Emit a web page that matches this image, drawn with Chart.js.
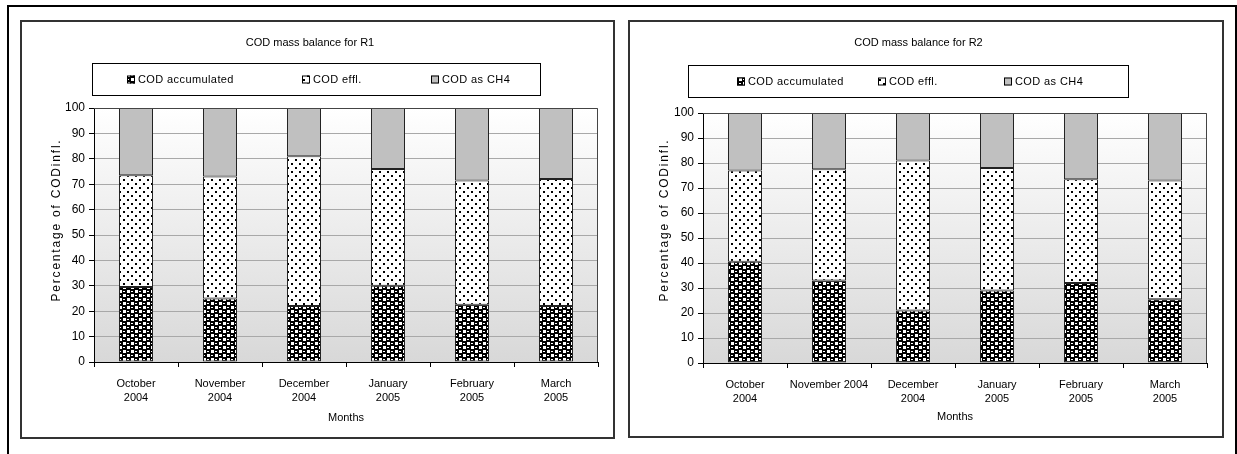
<!DOCTYPE html>
<html>
<head>
<style>
body { margin: 0; background: #fff; }
#frame { position: absolute; left: 7px; top: 5px; width: 1226px; height: 460px; border: 2px solid #000; border-bottom: none; }
.box { position: absolute; top: 20px; border: 2px solid #333; }
.box canvas { display: block; }
</style>
</head>
<body>

<div id="frame"></div>
<div class="box" style="left: 20px;"><canvas id="chartR1" width="591" height="415"></canvas></div>
<div class="box" style="left: 628px;"><canvas id="chartR2" width="592" height="414"></canvas></div>

<script src="https://cdn.jsdelivr.net/npm/chart.js"></script>
<script>
const labelsR1 = [['October', '2004'], ['November', '2004'], ['December', '2004'], ['January', '2005'], ['February', '2005'], ['March', '2005']];
const labelsR2 = [['October', '2004'], 'November 2004', ['December', '2004'], ['January', '2005'], ['February', '2005'], ['March', '2005']];
const seriesNames = ['COD accumulated', 'COD effl.', 'COD as CH4'];

const r1Accumulated = [29.5, 25, 22, 30, 22.5, 22];
const r1Effluent = [44, 48, 59, 46, 49, 50];
const r1Methane = [26.5, 27, 19, 24, 28.5, 28];

const r2Accumulated = [40.5, 33, 21, 29, 32, 25.5];
const r2Effluent = [36.5, 44.5, 60, 49, 41.5, 47.5];
const r2Methane = [23, 22.5, 19, 22, 26.5, 27];

const yMin = 0, yMax = 100, yStep = 10;
const yTitle = 'Percentage of CODinfl.';

const FONT = 'Liberation Sans, Arial, sans-serif';
Chart.defaults.font.family = FONT;
Chart.defaults.font.size = 11;
Chart.defaults.color = '#000';

// fill patterns like the old excel ones
function makeTile(w, h, draw) {
    const c = document.createElement('canvas');
    c.width = w; c.height = h;
    draw(c.getContext('2d'));
    return c;
}
const ballTile = makeTile(8, 8, g => {
    g.fillStyle = '#000';
    g.fillRect(0, 0, 8, 8);
    g.fillStyle = '#fff';
    g.fillRect(5, 0, 3, 3);
    g.fillRect(1, 4, 3, 3);
    g.fillRect(1, 1, 2, 1);
    g.fillRect(5, 5, 2, 1);
});
const dotTile = makeTile(8, 8, g => {
    g.fillStyle = '#fff';
    g.fillRect(0, 0, 8, 8);
    g.fillStyle = '#000';
    g.fillRect(1, 1, 2, 2);
    g.fillRect(5, 5, 2, 2);
});

function fills(ctx) {
    return [ctx.createPattern(ballTile, 'repeat'), ctx.createPattern(dotTile, 'repeat'), '#c0c0c0'];
}

const plotBack = {
    id: 'plotBack',
    beforeDraw(chart) {
        const a = chart.chartArea, ctx = chart.ctx;
        const grd = ctx.createLinearGradient(0, a.top, 0, a.bottom);
        grd.addColorStop(0, '#ffffff');
        grd.addColorStop(1, '#d8d8d8');
        ctx.save();
        ctx.fillStyle = grd;
        ctx.fillRect(a.left, a.top, a.right - a.left, a.bottom - a.top);
        ctx.restore();
    },
    afterDraw(chart) {
        const a = chart.chartArea, ctx = chart.ctx;
        ctx.save();
        ctx.strokeStyle = '#444';
        ctx.lineWidth = 1;
        ctx.beginPath();
        ctx.moveTo(a.left, a.top + 0.5);
        ctx.lineTo(a.right - 0.5, a.top + 0.5);
        ctx.lineTo(a.right - 0.5, a.bottom);
        ctx.stroke();
        ctx.restore();
    }
};

// y title is spaced out and sits a bit above the middle in the original
const sideTitle = {
    id: 'sideTitle',
    afterDraw(chart, args, opts) {
        const ctx = chart.ctx;
        ctx.save();
        ctx.translate(opts.x, opts.y);
        ctx.rotate(-Math.PI / 2);
        ctx.font = '12px ' + FONT;
        ctx.letterSpacing = '1.8px';
        ctx.fillStyle = '#000';
        ctx.textAlign = 'center';
        ctx.textBaseline = 'middle';
        ctx.fillText(opts.text, 0, 0);
        ctx.restore();
    }
};

const boxLegend = {
    id: 'boxLegend',
    afterDraw(chart, args, opts) {
        const ctx = chart.ctx;
        const [x, y, w, h] = opts.rect;
        ctx.save();
        ctx.strokeStyle = '#000';
        ctx.lineWidth = 1;
        ctx.strokeRect(x + 0.5, y + 0.5, w, h);
        ctx.font = '11px ' + FONT;
        ctx.letterSpacing = '0.4px';
        ctx.textBaseline = 'middle';
        const sw = 8, gap = 3;
        const cy = y + h / 2 + 0.5;
        chart.data.datasets.forEach((d, i) => {
            const cx = x + opts.at[i];
            ctx.fillStyle = d.backgroundColor;
            ctx.fillRect(cx, cy - sw / 2, sw, sw);
            ctx.strokeStyle = '#000';
            ctx.strokeRect(cx + 0.5, cy - sw / 2 + 0.5, sw - 1, sw - 1);
            ctx.fillStyle = '#000';
            ctx.fillText(d.label, cx + sw + gap, cy);
        });
        ctx.restore();
    }
};

function makeChart(id, title, labels, acc, eff, meth, cfg) {
    const ctx = document.getElementById(id).getContext('2d');
    const f = fills(ctx);
    const data = [acc, eff, meth];
    return new Chart(ctx, {
        type: 'bar',
        data: {
            labels: labels,
            datasets: data.map((vals, i) => ({
                label: seriesNames[i],
                data: vals,
                backgroundColor: f[i],
                borderColor: '#222',
                borderWidth: 1,
                borderSkipped: false,
                barPercentage: 0.405,
                categoryPercentage: 1
            }))
        },
        options: {
            responsive: false,
            animation: false,
            layout: { padding: { left: 0, right: 15, top: 0, bottom: 0 } },
            plugins: {
                legend: { display: false },
                tooltip: { enabled: false },
                title: {
                    display: true,
                    text: title,
                    font: { size: 11, weight: 'normal' },
                    color: '#000',
                    padding: { top: 14, bottom: cfg.plotTop - 14 - 13.2 }
                },
                boxLegend: { rect: cfg.legend, at: cfg.legendAt },
                sideTitle: { text: yTitle, x: cfg.yTitleX, y: cfg.yTitleY }
            },
            scales: {
                x: {
                    stacked: true,
                    grid: { display: true, drawOnChartArea: false, drawTicks: true, tickLength: 5, color: '#000', offset: true },
                    border: { display: true, color: '#000', width: 1 },
                    ticks: { color: '#000', padding: 10, maxRotation: 0, autoSkip: false, font: { size: 11, lineHeight: 1.3 } },
                    title: { display: true, text: 'Months', color: '#000', font: { size: 11 }, padding: { top: 0, bottom: 12 } },
                    afterFit: s => { s.height = cfg.xHeight; }
                },
                y: {
                    stacked: true,
                    min: yMin,
                    max: yMax,
                    ticks: { stepSize: yStep, color: '#000', padding: 4, font: { size: 12 } },
                    grid: { color: '#a8a8a8', tickColor: '#000', tickLength: 5 },
                    border: { display: true, color: '#000', width: 1 },
                    title: { display: false },
                    afterFit: s => { s.width = cfg.yWidth; }
                }
            }
        },
        plugins: [plotBack, boxLegend, sideTitle]
    });
}

makeChart('chartR1', 'COD mass balance for R1', labelsR1, r1Accumulated, r1Effluent, r1Methane,
    { plotTop: 86, xHeight: 75, yWidth: 72, legend: [70, 41, 448, 32], legendAt: [35, 210, 339], yTitleX: 35, yTitleY: 198 });
makeChart('chartR2', 'COD mass balance for R2', labelsR2, r2Accumulated, r2Effluent, r2Methane,
    { plotTop: 91, xHeight: 73, yWidth: 73, legend: [58, 43, 440, 32], legendAt: [49, 190, 316], yTitleX: 35, yTitleY: 198 });
</script>

</body>
</html>
